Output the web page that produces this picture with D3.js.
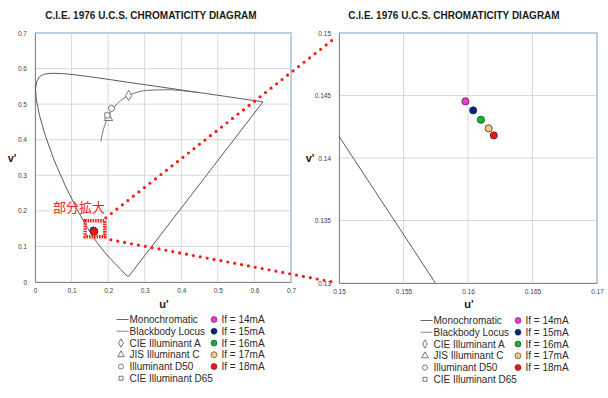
<!DOCTYPE html>
<html>
<head>
<meta charset="utf-8">
<script src="https://cdn.jsdelivr.net/npm/d3@7"></script>
<style>
  body { margin: 0; background: #fff; }
  svg { display: block; font-family: "Liberation Sans", Arial, sans-serif; }
</style>
</head>
<body>
<svg id="chart" width="608" height="398"></svg>
<script>
// spectral locus (u', v'), 380..700 nm
var locusU = [0.2568, 0.2557, 0.2522, 0.2461, 0.2411, 0.2347, 0.2266, 0.2161, 0.2033, 0.1877, 0.1690,
  0.1441, 0.1147, 0.0828, 0.0521, 0.0282, 0.0119, 0.0035, 0.0014, 0.0046, 0.0123, 0.0231, 0.0360,
  0.0501, 0.0792, 0.1127, 0.1531, 0.2026, 0.2623, 0.3315, 0.4035, 0.4692, 0.5203, 0.5565, 0.5830,
  0.6005, 0.6109, 0.6199, 0.6234];
var locusV = [0.0166, 0.0159, 0.0169, 0.0226, 0.0279, 0.0350, 0.0437, 0.0549, 0.0688, 0.0871, 0.1119,
  0.1510, 0.2044, 0.2708, 0.3427, 0.4117, 0.4698, 0.5131, 0.5432, 0.5638, 0.5770, 0.5837, 0.5861,
  0.5868, 0.5856, 0.5821, 0.5766, 0.5694, 0.5604, 0.5501, 0.5393, 0.5296, 0.5219, 0.5165, 0.5125,
  0.5099, 0.5084, 0.5070, 0.5065];

// blackbody locus, infinity .. 1000K
var bbU = [0.1801, 0.1839, 0.1858, 0.1904, 0.1946, 0.1981, 0.2033, 0.2114, 0.2251, 0.2357, 0.2505, 0.2722, 0.3051, 0.3579, 0.4481];
var bbV = [0.3953, 0.4157, 0.4234, 0.4399, 0.4521, 0.4606, 0.4712, 0.4847, 0.5016, 0.5113, 0.5214, 0.5311, 0.5386, 0.5405, 0.5319];

// illuminants: A, C, D50, D65
var illumNames = ["CIE Illuminant A", "JIS Illuminant C", "Illuminant D50", "CIE Illuminant D65"];
var illumU = [0.2560, 0.2009, 0.2092, 0.1978];
var illumV = [0.5243, 0.4609, 0.4881, 0.4683];
var illumSymbol = ["diamond", "triangle", "circle", "square"];

// LED measurements
var ledNames = ["If = 14mA", "If = 15mA", "If = 16mA", "If = 17mA", "If = 18mA"];
var ledU = [0.1598, 0.1604, 0.1610, 0.1616, 0.1620];
var ledV = [0.14453, 0.14381, 0.14306, 0.14237, 0.14181];
var ledColors = ["#ff33dd", "#002090", "#00bb22", "#f8c878", "#ff1010"];

var fullTicks = [0, 0.1, 0.2, 0.3, 0.4, 0.5, 0.6, 0.7];
var fullTickLabels = ["0", "0.1", "0.2", "0.3", "0.4", "0.5", "0.6", "0.7"];
var zoomUTicks = [0.15, 0.155, 0.16, 0.165, 0.17];
var zoomUTickLabels = ["0.15", "0.155", "0.16", "0.165", "0.17"];
var zoomVTicks = [0.13, 0.135, 0.14, 0.145, 0.15];
var zoomVTickLabels = ["0.13", "0.135", "0.14", "0.145", "0.15"];

var svg = d3.select("#chart");
var title = "C.I.E. 1976 U.C.S. CHROMATICITY DIAGRAM";

var locus = d3.range(locusU.length).map(function(i) { return [locusU[i], locusV[i]]; });
var bb = d3.range(bbU.length).map(function(i) { return [bbU[i], bbV[i]]; });

var symbolTypes = {
  diamond: d3.symbolDiamond, triangle: d3.symbolTriangle,
  circle: d3.symbolCircle, square: d3.symbolSquare
};

function drawChart(opt) {
  var g = svg.append("g");
  var x = d3.scaleLinear().domain(opt.xDomain).range([opt.left, opt.right]);
  var y = d3.scaleLinear().domain(opt.yDomain).range([opt.bottom, opt.top]);

  g.append("text")
    .attr("x", opt.titleX).attr("y", 19)
    .attr("text-anchor", "middle")
    .attr("font-size", "10px").attr("font-weight", "bold")
    .attr("fill", "#1a1a1a")
    .text(title);

  // grid
  g.selectAll(".gx").data(opt.xTicks).enter().append("line")
    .attr("x1", function(d) { return x(d); }).attr("x2", function(d) { return x(d); })
    .attr("y1", opt.top).attr("y2", opt.bottom)
    .attr("stroke", "#d9d9d9").attr("stroke-width", 1);
  g.selectAll(".gy").data(opt.yTicks).enter().append("line")
    .attr("y1", function(d) { return y(d); }).attr("y2", function(d) { return y(d); })
    .attr("x1", opt.left).attr("x2", opt.right)
    .attr("stroke", "#d9d9d9").attr("stroke-width", 1);

  // plot border top/right (light blue)
  g.append("path")
    .attr("d", "M" + opt.left + "," + opt.top + "H" + opt.right + "V" + opt.bottom)
    .attr("fill", "none").attr("stroke", "#b9cde5").attr("stroke-width", 2);

  // axes
  var xAxis = d3.axisBottom(x).tickValues(opt.xTicks).tickSize(0).tickPadding(6)
    .tickFormat(function(d, i) { return opt.xLabels[i]; });
  var yAxis = d3.axisLeft(y).tickValues(opt.yTicks).tickSize(0).tickPadding(8)
    .tickFormat(function(d, i) { return opt.yLabels[i]; });
  var gx = g.append("g").attr("transform", "translate(0," + opt.bottom + ")").call(xAxis);
  var gy = g.append("g").attr("transform", "translate(" + opt.left + ",0)").call(yAxis);
  [gx, gy].forEach(function(a) {
    a.select(".domain").attr("stroke", "#868686");
    a.selectAll("text").attr("font-size", "6.5px").attr("fill", "#404040")
      .attr("font-family", "'Liberation Sans', Arial, sans-serif");
  });

  g.append("text").attr("x", (opt.left + opt.right) / 2 + 1).attr("y", 308)
    .attr("text-anchor", "middle").attr("font-size", "11px").attr("font-weight", "bold")
    .attr("fill", "#1a1a1a").text("u'");
  g.append("text").attr("x", opt.vTitleX).attr("y", (opt.top + opt.bottom) / 2 + 4)
    .attr("text-anchor", "middle").attr("font-size", "11px").attr("font-weight", "bold")
    .attr("fill", "#1a1a1a").text("v'");

  var clipId = "clip" + opt.id;
  g.append("clipPath").attr("id", clipId).append("rect")
    .attr("x", opt.left).attr("y", opt.top)
    .attr("width", opt.right - opt.left).attr("height", opt.bottom - opt.top);
  var plot = g.append("g").attr("clip-path", "url(#" + clipId + ")");

  var line = d3.line().x(function(d) { return x(d[0]); }).y(function(d) { return y(d[1]); });

  plot.append("path").datum(locus)
    .attr("d", line.curve(d3.curveLinearClosed))
    .attr("fill", "none").attr("stroke", "#5a5a5a").attr("stroke-width", 1);
  plot.append("path").datum(bb)
    .attr("d", line.curve(d3.curveMonotoneX))
    .attr("fill", "none").attr("stroke", "#707070").attr("stroke-width", 1);

  plot.selectAll(".illum").data(illumU).enter().append("path")
    .attr("transform", function(d, i) { return "translate(" + x(d) + "," + y(illumV[i]) + ")"; })
    .attr("d", function(d, i) { return d3.symbol(symbolTypes[illumSymbol[i]], illumSymbol[i] === "square" ? 26 : 30)(); })
    .attr("fill", "#fff").attr("stroke", "#555").attr("stroke-width", 0.8);

  plot.selectAll(".led").data(ledU).enter().append("circle")
    .attr("cx", function(d) { return x(d); })
    .attr("cy", function(d, i) { return y(ledV[i]); })
    .attr("r", 3.6)
    .attr("fill", function(d, i) { return ledColors[i]; })
    .attr("stroke", "#333").attr("stroke-width", 0.8);

  // legend
  var lg = g.append("g");
  var rowH = 11.75;
  var lineItems = ["Monochromatic", "Blackbody Locus"];
  lineItems.forEach(function(name, i) {
    var cy = opt.legY + i * rowH;
    lg.append("line").attr("x1", opt.legX).attr("x2", opt.legX + 12)
      .attr("y1", cy).attr("y2", cy).attr("stroke", i ? "#888" : "#666").attr("stroke-width", 1);
    lg.append("text").attr("x", opt.legX + 13).attr("y", cy + 3.5)
      .attr("font-size", "10px").attr("fill", "#2b2b2b").text(name);
  });
  illumNames.forEach(function(name, i) {
    var cy = opt.legY + (i + 2) * rowH;
    lg.append("path").attr("transform", "translate(" + (opt.legX + 4.5) + "," + cy + ")")
      .attr("d", d3.symbol(symbolTypes[illumSymbol[i]], illumSymbol[i] === "square" ? 16 : 20)())
      .attr("fill", "#fff").attr("stroke", "#555").attr("stroke-width", 0.8);
    lg.append("text").attr("x", opt.legX + 13).attr("y", cy + 3.5)
      .attr("font-size", "10px").attr("fill", "#2b2b2b").text(name);
  });
  ledNames.forEach(function(name, i) {
    var cy = opt.legY + i * rowH;
    lg.append("circle").attr("cx", opt.legX + 97.5).attr("cy", cy).attr("r", 3)
      .attr("fill", ledColors[i]).attr("stroke", "#333").attr("stroke-width", 0.6);
    lg.append("text").attr("x", opt.legX + 105).attr("y", cy + 3.5)
      .attr("font-size", "10px").attr("fill", "#2b2b2b").text(name);
  });

  return { x: x, y: y };
}

var full = drawChart({
  id: 1, xDomain: [0, 0.7], yDomain: [0, 0.7],
  left: 35, right: 291, top: 33, bottom: 282, titleX: 151, vTitleX: 12,
  xTicks: fullTicks, yTicks: fullTicks, xLabels: fullTickLabels, yLabels: fullTickLabels,
  legX: 116.5, legY: 319.5
});
var zoom = drawChart({
  id: 2, xDomain: [0.15, 0.17], yDomain: [0.13, 0.15],
  left: 339, right: 597, top: 33, bottom: 283, titleX: 454, vTitleX: 310,
  xTicks: zoomUTicks, yTicks: zoomVTicks, xLabels: zoomUTickLabels, yLabels: zoomVTickLabels,
  legX: 420.5, legY: 320.5
});

// callout: magnified region marker and connecting dotted lines
var bx0 = full.x(0.137), bx1 = full.x(0.191), by0 = full.y(0.172), by1 = full.y(0.127);
var ann = svg.append("g");
ann.append("rect")
  .attr("x", bx0).attr("y", by0).attr("width", bx1 - bx0).attr("height", by1 - by0)
  .attr("fill", "none").attr("stroke", "#ff2020").attr("stroke-width", 3.5)
  .attr("stroke-dasharray", "1.6 0.9");
ann.append("text").attr("x", bx0 - 32).attr("y", by0 - 9)
  .attr("font-size", "13px").attr("fill", "#ff1a1a")
  .attr("font-family", "'Noto Sans CJK JP', sans-serif")
  .text("部分拡大");

var zx0 = zoom.x(0.15), zy0 = zoom.y(0.15), zy1 = zoom.y(0.13);
ann.append("line")
  .attr("x1", bx1 + 1).attr("y1", by0 - 3).attr("x2", zx0 - 4).attr("y2", zy0 + 5)
  .attr("stroke", "#ff1a1a").attr("stroke-width", 3.2)
  .attr("stroke-linecap", "round").attr("stroke-dasharray", "0 7");
ann.append("line")
  .attr("x1", bx1 + 6).attr("y1", by1 + 3).attr("x2", zx0 - 6).attr("y2", zy1 - 1)
  .attr("stroke", "#ff1a1a").attr("stroke-width", 3.2)
  .attr("stroke-linecap", "round").attr("stroke-dasharray", "0 7");
</script>
</body>
</html>
